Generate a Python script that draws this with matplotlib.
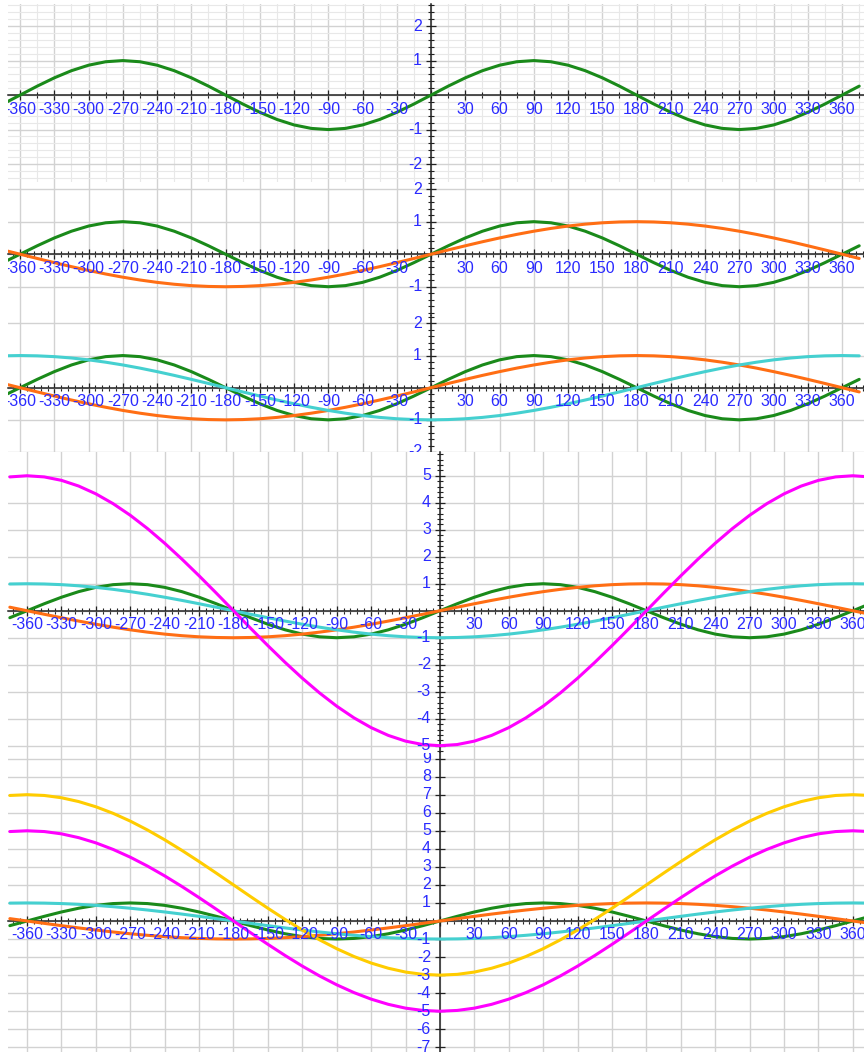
"""
Stacked trig-curve panels: sin x, then sin(x/2), -cos(x/2), -5cos(x/2), 2-5cos(x/2)
added one by one, drawn like a graphing-tool screenshot.
"""
import matplotlib
matplotlib.use("Agg")
import matplotlib.pyplot as plt
from matplotlib.ticker import MultipleLocator, NullLocator
from matplotlib.transforms import offset_copy

W, H = 864, 1052
BLUE = "#2a2aff"
AXIS = "#222222"
FONT = ["Liberation Sans", "DejaVu Sans"]
LABEL_SIZE = 11.5

# x in degrees, 15 degree steps
degrees = list(range(-375, 376, 15))

green = [-0.259,
         0, 0.259, 0.5, 0.707, 0.866, 0.966, 1,
         0.966, 0.866, 0.707, 0.5, 0.259, 0,
         -0.259, -0.5, -0.707, -0.866, -0.966, -1,
         -0.966, -0.866, -0.707, -0.5, -0.259, 0,
         0.259, 0.5, 0.707, 0.866, 0.966, 1,
         0.966, 0.866, 0.707, 0.5, 0.259, 0,
         -0.259, -0.5, -0.707, -0.866, -0.966, -1,
         -0.966, -0.866, -0.707, -0.5, -0.259, 0,
         0.259]

orange = [0.131,
          0, -0.131, -0.259, -0.383, -0.5, -0.609, -0.707, -0.793, -0.866, -0.924, -0.966, -0.991,
          -1, -0.991, -0.966, -0.924, -0.866, -0.793, -0.707, -0.609, -0.5, -0.383, -0.259, -0.131,
          0, 0.131, 0.259, 0.383, 0.5, 0.609, 0.707, 0.793, 0.866, 0.924, 0.966, 0.991,
          1, 0.991, 0.966, 0.924, 0.866, 0.793, 0.707, 0.609, 0.5, 0.383, 0.259, 0.131,
          0, -0.131]

cyan = [0.991,
        1, 0.991, 0.966, 0.924, 0.866, 0.793, 0.707, 0.609, 0.5, 0.383, 0.259, 0.131,
        0, -0.131, -0.259, -0.383, -0.5, -0.609, -0.707, -0.793, -0.866, -0.924, -0.966, -0.991,
        -1, -0.991, -0.966, -0.924, -0.866, -0.793, -0.707, -0.609, -0.5, -0.383, -0.259, -0.131,
        0, 0.131, 0.259, 0.383, 0.5, 0.609, 0.707, 0.793, 0.866, 0.924, 0.966, 0.991,
        1, 0.991]

magenta = [4.957,
           5, 4.957, 4.830, 4.619, 4.330, 3.967, 3.536, 3.044, 2.5, 1.913, 1.294, 0.653,
           0, -0.653, -1.294, -1.913, -2.5, -3.044, -3.536, -3.967, -4.330, -4.619, -4.830, -4.957,
           -5, -4.957, -4.830, -4.619, -4.330, -3.967, -3.536, -3.044, -2.5, -1.913, -1.294, -0.653,
           0, 0.653, 1.294, 1.913, 2.5, 3.044, 3.536, 3.967, 4.330, 4.619, 4.830, 4.957,
           5, 4.957]

yellow = [6.957,
          7, 6.957, 6.830, 6.619, 6.330, 5.967, 5.536, 5.044, 4.5, 3.913, 3.294, 2.653,
          2, 1.347, 0.706, 0.087, -0.5, -1.044, -1.536, -1.967, -2.330, -2.619, -2.830, -2.957,
          -3, -2.957, -2.830, -2.619, -2.330, -1.967, -1.536, -1.044, -0.5, 0.087, 0.706, 1.347,
          2, 2.653, 3.294, 3.913, 4.5, 5.044, 5.536, 5.967, 6.330, 6.619, 6.830, 6.957,
          7, 6.957]

x_labels = [-360, -330, -300, -270, -240, -210, -180, -150, -120, -90, -60, -30,
            30, 60, 90, 120, 150, 180, 210, 240, 270, 300, 330, 360]

curves = {
    "green": (green, "#1a8a1a"),
    "orange": (orange, "#ff6e14"),
    "cyan": (cyan, "#45d0d0"),
    "magenta": (magenta, "#ff00ff"),
    "yellow": (yellow, "#ffcc00"),
}

# panel layout in pixels: top, bottom, xlim, ylim, minor steps, fine grid, curves, y labels
panels = [
    dict(top=4, bottom=182, xlim=(-370.6, 379.2), ylim=(-2.52, 2.64), xminor=15, yminor=0.2,
         fine=True, names=["green"], ylabels=[2, 1, -1, -2]),
    dict(top=182, bottom=316, xlim=(-370.6, 379.2), ylim=(-1.90, 2.22), xminor=6, yminor=0.2,
         fine=False, names=["green", "orange"], ylabels=[2, 1, -1]),
    dict(top=316, bottom=452, xlim=(-370.6, 379.2), ylim=(-2.0, 2.23), xminor=6, yminor=0.2,
         fine=False, names=["green", "orange", "cyan"], ylabels=[2, 1, -1, -2]),
    dict(top=452, bottom=753, xlim=(-376.6, 369.7), ylim=(-5.27, 5.88), xminor=6, yminor=0.2,
         fine=False, names=["green", "orange", "cyan", "magenta"],
         ylabels=[5, 4, 3, 2, 1, -1, -2, -3, -4, -5]),
    dict(top=753, bottom=1052, xlim=(-376.6, 369.7), ylim=(-7.26, 9.31), xminor=6, yminor=None,
         fine=False, names=["green", "orange", "cyan", "magenta", "yellow"],
         ylabels=[9, 8, 7, 6, 5, 4, 3, 2, 1, -1, -2, -3, -4, -5, -6, -7]),
]

fig = plt.figure(figsize=(W / 100, H / 100), dpi=100)
fig.patch.set_facecolor("white")

for p in panels:
    ax = fig.add_axes([8 / W, 1 - p["bottom"] / H, (W - 8) / W, (p["bottom"] - p["top"]) / H])
    ax.set_xlim(*p["xlim"])
    ax.set_ylim(*p["ylim"])

    for side in ["top", "right"]:
        ax.spines[side].set_visible(False)
    for side in ["left", "bottom"]:
        ax.spines[side].set_position(("data", 0))
        ax.spines[side].set_color(AXIS)
        ax.spines[side].set_linewidth(1.1)

    ax.xaxis.set_major_locator(MultipleLocator(30))
    ax.xaxis.set_minor_locator(MultipleLocator(p["xminor"]))
    ax.yaxis.set_major_locator(MultipleLocator(1))
    if p["yminor"]:
        ax.yaxis.set_minor_locator(MultipleLocator(p["yminor"]))
    else:
        ax.yaxis.set_minor_locator(NullLocator())

    ax.tick_params(which="major", direction="inout", length=7, width=0.9, color=AXIS,
                   labelbottom=False, labelleft=False)
    ax.tick_params(which="minor", direction="inout", length=4, width=0.8, color=AXIS)

    ax.set_axisbelow(True)
    ax.grid(which="major", color="#d2d2d2", linewidth=1.0)
    if p["fine"]:
        ax.grid(which="minor", color="#e8e8e8", linewidth=0.8)

    for name in p["names"]:
        vals, col = curves[name]
        ax.plot(degrees, vals, color=col, linewidth=2.2, zorder=3, solid_capstyle="round")

    # tick labels as clipped text, like the cut-off labels in the screenshots
    xoff = offset_copy(ax.transData, fig=fig, x=0, y=-14, units="dots")
    for v in x_labels:
        ax.text(v, 0, str(v), transform=xoff, ha="center", va="center", fontsize=LABEL_SIZE,
                color=BLUE, family=FONT, clip_on=True, zorder=4)
    yoff = offset_copy(ax.transData, fig=fig, x=-9, y=0, units="dots")
    for v in p["ylabels"]:
        ax.text(0, v, str(v), transform=yoff, ha="right", va="center", fontsize=LABEL_SIZE,
                color=BLUE, family=FONT, clip_on=True, zorder=4)

plt.savefig("out.png", dpi=100, facecolor="white")
plt.close()
